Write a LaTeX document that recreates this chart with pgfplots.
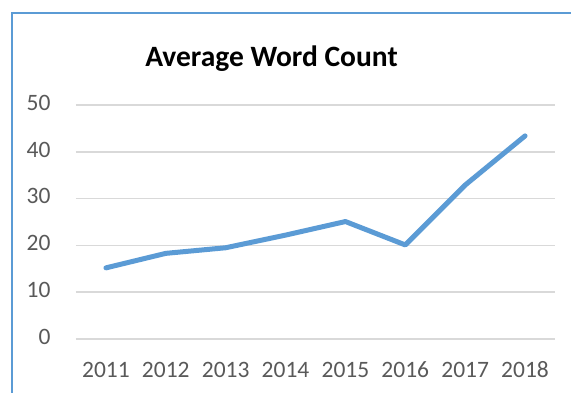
\documentclass[border=0pt]{standalone}
\usepackage{fontspec}
\setmainfont{Carlito}[Numbers=Lining]
\usepackage{pgfplots}
\pgfplotsset{compat=1.18}
\definecolor{lineblue}{RGB}{91,155,213}
\definecolor{gridgray}{RGB}{217,217,217}
\definecolor{labgray}{RGB}{89,89,89}
\begin{document}
\begin{tikzpicture}[x=1pt,y=1pt]
\path[use as bounding box] (0,0) rectangle (571,392);
\draw[lineblue, line width=2pt] (12,-10) -- (12,379) -- (590,379);
\node[font=\fontsize{29.5}{33}\selectfont\bfseries, text=black] at (271.5,333) {Average Word Count};
\begin{axis}[
  at={(76pt,53pt)}, anchor=south west,
  scale only axis, width=479pt, height=234pt,
  xmin=-0.5, xmax=7.5, ymin=0, ymax=50,
  ytick={0,10,20,30,40,50},
  xtick=data,
  xticklabels={2011,2012,2013,2014,2015,2016,2017,2018},
  axis line style={draw=none},
  major tick length=0pt,
  ymajorgrids,
  grid style={gridgray, line width=1.5pt},
  tick label style={font=\fontsize{23.5}{26}\selectfont, text=labgray},
  /pgf/number format/assume math mode=true,
  typeset ticklabels with strut,
  yticklabel style={xshift=-22pt},
  xticklabel style={yshift=-17pt},
  clip=false,
]
\addplot[lineblue, line width=5pt, line cap=round, line join=round] coordinates {
(0,15.2) (1,18.3) (2,19.5) (3,22.2) (4,25.1) (5,20.1) (6,32.9) (7,43.4)
};
\end{axis}
\end{tikzpicture}
\end{document}
